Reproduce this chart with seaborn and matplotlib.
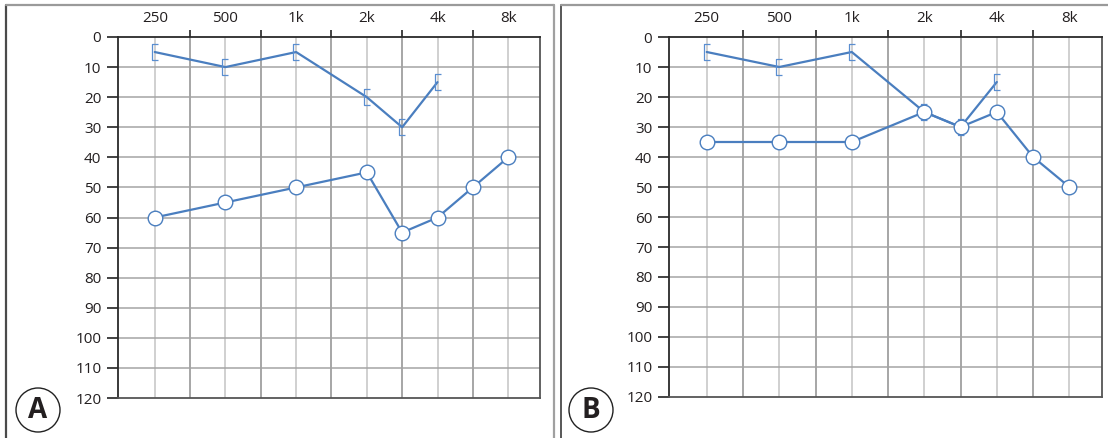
import numpy as np
import pandas as pd
import matplotlib
matplotlib.use("Agg")
import matplotlib.pyplot as plt
from matplotlib.path import Path
from matplotlib.patches import Circle
from matplotlib.lines import Line2D
import seaborn as sns

# ---------------- data ----------------
freq_labels = ["250", "500", "1k", "2k", "4k", "8k"]
label_freqs = [250, 500, 1000, 2000, 4000, 8000]
half_octave_freqs = [375, 750, 1500, 3000, 6000]

bracket_freqs = [250, 500, 1000, 2000, 3000, 4000]
circle_freqs = [250, 500, 1000, 2000, 3000, 4000, 6000, 8000]

a_bracket = [5, 10, 5, 20, 30, 15]
a_circle = [60, 55, 50, 45, 65, 60, 50, 40]

b_bracket = [5, 10, 5, 25, 30, 15]
b_circle = [35, 35, 35, 25, 30, 25, 40, 50]

y_ticks = list(range(0, 121, 10))
panel_letters = ["A", "B"]

# ---------------- style ----------------
sns.set_style("white")
plt.rcParams["font.family"] = ["Open Sans", "DejaVu Sans"]

LINE = "#4a7ebf"
BRK = "#5a8ed0"
TXT = "#231f20"


def fwd(f):
    f = np.asarray(f, dtype=float)
    f = np.clip(f, 1e-6, None)
    k = np.floor(np.log2(f / 250.0))
    return k + f / (250.0 * 2.0 ** k) - 1.0


def inv(x):
    x = np.asarray(x, dtype=float)
    k = np.floor(x)
    return 250.0 * 2.0 ** k * (1.0 + x - k)


bracket_marker = Path([(0.38, 1.0), (-0.38, 1.0), (-0.38, -1.0), (0.38, -1.0)],
                      [Path.MOVETO, Path.LINETO, Path.LINETO, Path.LINETO])

W, H = 1108, 438
fig = plt.figure(figsize=(W / 100, H / 100), dpi=100)

panels = [
    dict(rect=(118, 37, 540, 398), br=a_bracket, ci=a_circle),
    dict(rect=(669, 37, 1102, 397), br=b_bracket, ci=b_circle),
]

for p in panels:
    x0, y0, x1, y1 = p["rect"]
    ax = fig.add_axes([x0 / W, 1 - y1 / H, (x1 - x0) / W, (y1 - y0) / H])
    ax.set_xscale("function", functions=(fwd, inv))
    ax.set_xlim(inv(-0.52), inv(5.45))
    ax.set_ylim(120, 0)

    # grid
    for f in label_freqs:
        ax.axvline(f, color="#c4c4c4", lw=1.1, zorder=0)
    for f in half_octave_freqs:
        ax.axvline(f, color="#8e8e8e", lw=1.1, zorder=0)
    for y in y_ticks[1:-1]:
        ax.axhline(y, color="#a4a4a4", lw=1.1, zorder=0)

    df_b = pd.DataFrame({"freq": bracket_freqs, "db": p["br"]})
    df_c = pd.DataFrame({"freq": circle_freqs, "db": p["ci"]})

    sns.lineplot(data=df_b, x="freq", y="db", ax=ax, color=LINE, lw=1.6,
                 marker=bracket_marker, markersize=12, markerfacecolor="none",
                 markeredgecolor=BRK, markeredgewidth=0.9, zorder=3)
    sns.lineplot(data=df_c, x="freq", y="db", ax=ax, color=LINE, lw=1.6,
                 marker="o", markersize=10.5, markerfacecolor="white",
                 markeredgecolor=LINE, markeredgewidth=1.0, zorder=4)

    ax.set_xlabel("")
    ax.set_ylabel("")

    ax.xaxis.tick_top()
    ax.set_xticks(label_freqs)
    ax.set_xticklabels(freq_labels)
    ax.set_xticks(half_octave_freqs, minor=True)
    ax.tick_params(axis="x", which="major", length=0, pad=8, labelsize=11,
                   colors=TXT)
    ax.tick_params(axis="x", which="minor", top=True, bottom=False, length=5,
                   width=1.2, color="#222222")
    ax.set_yticks(y_ticks)
    ax.tick_params(axis="y", which="major", left=True, length=8, width=1.2,
                   color="#222222", pad=4, labelsize=11, labelcolor=TXT)
    ax.minorticks_on() if False else None
    ax.yaxis.set_minor_locator(matplotlib.ticker.NullLocator())

    for side in ["left", "top"]:
        ax.spines[side].set_color("#2a2a2a")
        ax.spines[side].set_linewidth(1.3)
    for side in ["right", "bottom"]:
        ax.spines[side].set_color("#555555")
        ax.spines[side].set_linewidth(1.3)
    ax.set_facecolor("white")

# panel frames (figure pixel coordinates)
tr = fig.dpi_scale_trans
def px(x, y):
    return (x / 100, (H - y) / 100)

frame_lines = [
    ((6, 5), (6, 440), "#4a4a4a", 1.6),
    ((6, 5), (554, 5), "#9a9a9a", 1.6),
    ((554, 5), (554, 440), "#a0a0a0", 1.6),
    ((561, 5), (561, 440), "#4a4a4a", 1.3),
    ((561, 5), (1110, 5), "#9a9a9a", 1.6),
]
for (xa, ya), (xb, yb), c, lw in frame_lines:
    pa, pb = px(xa, ya), px(xb, yb)
    fig.add_artist(Line2D([pa[0], pb[0]], [pa[1], pb[1]], transform=tr,
                          color=c, lw=lw))

# circled letters
for letter, (cx, cy) in zip(panel_letters, [(38, 410), (591, 410)]):
    c = px(cx, cy)
    fig.add_artist(Circle(c, 0.22, transform=tr, facecolor="white",
                          edgecolor="#222222", lw=1.0))
    fig.text(c[0], c[1] - 0.005, letter, transform=tr, ha="center", va="center",
             fontsize=20, fontweight="bold", color=TXT)

fig.savefig("out.png", dpi=100)
